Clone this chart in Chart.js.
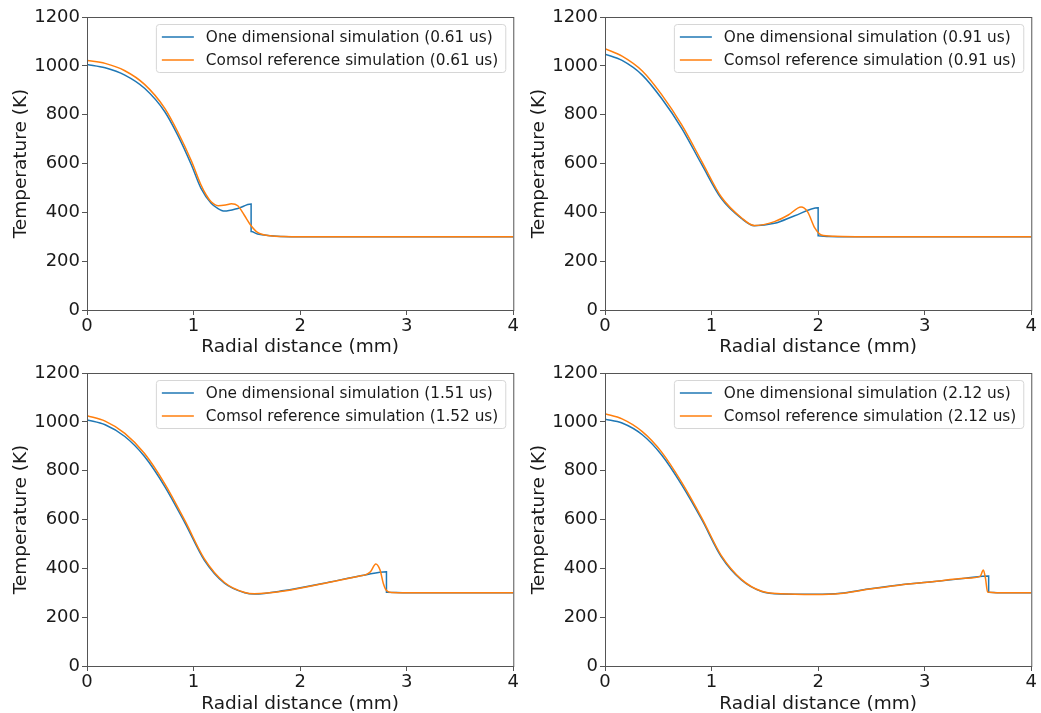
<!DOCTYPE html>
<html>
<head>
<meta charset="utf-8">
<script src="https://cdn.jsdelivr.net/npm/chart.js@4"></script>
<style>
  body { margin: 0; background: #fff; }
  #wrap { position: relative; width: 1041px; height: 713px; }
  .panel { position: absolute; }
  canvas { display: block; }
</style>
</head>
<body>
<div id="wrap">
  <div class="panel" style="left:0;top:0"><canvas id="c1" width="520" height="356"></canvas></div>
  <div class="panel" style="left:518px;top:0"><canvas id="c2" width="520" height="356"></canvas></div>
  <div class="panel" style="left:0;top:356px"><canvas id="c3" width="520" height="357"></canvas></div>
  <div class="panel" style="left:518px;top:356px"><canvas id="c4" width="520" height="357"></canvas></div>
</div>
<script>
// radial distance (mm) and temperature (K)
const p1OneR = [0, 0.17, 0.355, 0.54, 0.73, 0.85, 0.98, 1.07, 1.165, 1.22, 1.29, 1.415, 1.54, 1.54, 1.60, 1.72, 1.9, 4.0];
const p1OneT = [1006, 992, 962, 908, 812, 717, 594, 498, 437, 418, 405, 416, 434, 321, 311, 304, 300, 300];
const p1ComR = [0, 0.17, 0.355, 0.54, 0.73, 0.85, 0.98, 1.07, 1.12, 1.165, 1.23, 1.30, 1.355, 1.415, 1.475, 1.54, 1.60, 1.72, 1.85, 2.0, 4.0];
const p1ComT = [1022, 1010, 980, 924, 826, 731, 610, 512, 470, 443, 427, 430, 435, 427, 389, 345, 318, 304, 301, 300, 300];

const p2OneR = [0, 0.16, 0.35, 0.53, 0.72, 0.91, 1.09, 1.28, 1.40, 1.59, 1.78, 2.0, 2.0, 2.1, 2.3, 4.0];
const p2OneT = [1048, 1022, 962, 867, 744, 594, 457, 375, 345, 355, 386, 419, 304, 301, 300, 300];
const p2ComR = [0, 0.16, 0.35, 0.53, 0.72, 0.91, 1.09, 1.28, 1.40, 1.59, 1.72, 1.84, 1.90, 1.97, 2.03, 2.15, 2.4, 4.0];
const p2ComT = [1070, 1040, 979, 883, 758, 607, 464, 378, 346, 362, 389, 422, 403, 335, 307, 302, 300, 300];

const p3OneR = [0, 0.17, 0.355, 0.54, 0.73, 0.92, 1.10, 1.29, 1.48, 1.57, 1.85, 2.21, 2.61, 2.81, 2.81, 3.0, 4.0];
const p3OneT = [1008, 988, 940, 858, 735, 585, 434, 339, 300, 295, 309, 338, 373, 386, 302, 300, 300];
const p3ComR = [0, 0.17, 0.355, 0.54, 0.73, 0.92, 1.10, 1.29, 1.48, 1.57, 1.85, 2.21, 2.55, 2.61, 2.66, 2.71, 2.75, 2.78, 2.81, 2.86, 3.0, 4.0];
const p3ComT = [1025, 1003, 953, 870, 746, 594, 440, 342, 301, 296, 307, 337, 368, 373, 386, 418, 393, 339, 309, 301, 300, 300];

const p4OneR = [0, 0.16, 0.35, 0.53, 0.72, 0.91, 1.09, 1.28, 1.47, 1.65, 1.97, 2.21, 2.45, 2.76, 3.07, 3.38, 3.60, 3.60, 3.7, 4.0];
const p4OneT = [1011, 995, 947, 865, 742, 598, 448, 352, 305, 295, 294, 298, 314, 332, 345, 359, 369, 302, 300, 300];
const p4ComR = [0, 0.16, 0.35, 0.53, 0.72, 0.91, 1.09, 1.28, 1.47, 1.65, 1.97, 2.21, 2.45, 2.76, 3.07, 3.38, 3.52, 3.55, 3.57, 3.59, 3.7, 4.0];
const p4ComT = [1033, 1012, 960, 877, 752, 605, 453, 355, 306, 296, 293, 297, 313, 331, 345, 359, 367, 393, 360, 303, 300, 300];

const oneTimes = ["0.61", "0.91", "1.51", "2.12"];
const comTimes = ["0.61", "0.91", "1.52", "2.12"];

const xTicks = [0, 1, 2, 3, 4];
const yTicks = [0, 200, 400, 600, 800, 1000, 1200];

const FONT = '"DejaVu Sans", sans-serif';
const TEXT = "#1a1a1a";
const AXIS = "#555";

const frameAndLegend = {
  id: "frameAndLegend",
  afterDraw(chart) {
    const { ctx, chartArea: a } = chart;
    ctx.save();
    ctx.strokeStyle = AXIS;
    ctx.lineWidth = 1;
    ctx.strokeRect(a.left + 0.5, a.top + 0.5, a.right - a.left, a.bottom - a.top);

    // legend box, upper right
    ctx.font = "15.3px " + FONT;
    const sets = chart.data.datasets;
    const textW = Math.max(...sets.map((d) => ctx.measureText(d.label).width));
    const w = 6 + 32 + 12 + textW + 7;
    const h = 48;
    const x = a.right - 8 - w;
    const y = a.top + 7;
    ctx.beginPath();
    ctx.roundRect(x + 0.5, y + 0.5, w, h, 3);
    ctx.fillStyle = "rgba(255,255,255,0.8)";
    ctx.fill();
    ctx.strokeStyle = "#d6d6d6";
    ctx.stroke();
    sets.forEach((d, i) => {
      const cy = y + 13 + i * 23;
      ctx.beginPath();
      ctx.moveTo(x + 6, cy);
      ctx.lineTo(x + 38, cy);
      ctx.strokeStyle = d.borderColor;
      ctx.lineWidth = 1.5;
      ctx.stroke();
      ctx.fillStyle = TEXT;
      ctx.textBaseline = "middle";
      ctx.fillText(d.label, x + 50, cy + 1);
    });
    ctx.restore();
  },
};

function toPoints(rs, ts) {
  return rs.map((r, i) => ({ x: r, y: ts[i] }));
}

function drawPanel(id, oneR, oneT, comR, comT, k, xHeight) {
  new Chart(document.getElementById(id), {
    type: "line",
    data: {
      datasets: [
        {
          label: `One dimensional simulation (${oneTimes[k]} us)`,
          data: toPoints(oneR, oneT),
          borderColor: "#1f77b4",
          borderWidth: 1.5,
          pointRadius: 0,
          cubicInterpolationMode: "monotone",
          order: 1,
        },
        {
          label: `Comsol reference simulation (${comTimes[k]} us)`,
          data: toPoints(comR, comT),
          borderColor: "#ff7f0e",
          borderWidth: 1.5,
          pointRadius: 0,
          cubicInterpolationMode: "monotone",
          order: 0,
        },
      ],
    },
    options: {
      responsive: false,
      animation: false,
      layout: { padding: { left: 0, top: 17, right: 5, bottom: 0 } },
      plugins: { legend: { display: false }, tooltip: { enabled: false } },
      scales: {
        x: {
          type: "linear",
          min: 0,
          max: 4,
          afterBuildTicks: (s) => { s.ticks = xTicks.map((v) => ({ value: v })); },
          ticks: { color: TEXT, font: { size: 18, family: FONT }, padding: 1, maxRotation: 0, callback: (v) => String(v) },
          grid: { drawOnChartArea: false, tickLength: 5, color: AXIS },
          border: { color: AXIS },
          title: { display: true, text: "Radial distance (mm)", color: TEXT, font: { size: 18.5, family: FONT, lineHeight: 1.0 }, padding: 0 },
          afterFit: (s) => { s.height = xHeight; },
        },
        y: {
          type: "linear",
          min: 0,
          max: 1200,
          afterBuildTicks: (s) => { s.ticks = yTicks.map((v) => ({ value: v })); },
          ticks: { color: TEXT, font: { size: 18, family: FONT }, padding: 2, callback: (v) => String(v) },
          grid: { drawOnChartArea: false, tickLength: 5, color: AXIS },
          border: { color: AXIS },
          title: { display: true, text: "Temperature (K)", color: TEXT, font: { size: 18.5, family: FONT }, padding: { top: 10, bottom: 0 } },
          afterFit: (s) => { s.width = 87; },
        },
      },
    },
    plugins: [frameAndLegend],
  });
}

drawPanel("c1", p1OneR, p1OneT, p1ComR, p1ComT, 0, 46);
drawPanel("c2", p2OneR, p2OneT, p2ComR, p2ComT, 1, 46);
drawPanel("c3", p3OneR, p3OneT, p3ComR, p3ComT, 2, 47);
drawPanel("c4", p4OneR, p4OneT, p4ComR, p4ComT, 3, 47);
</script>
</body>
</html>
